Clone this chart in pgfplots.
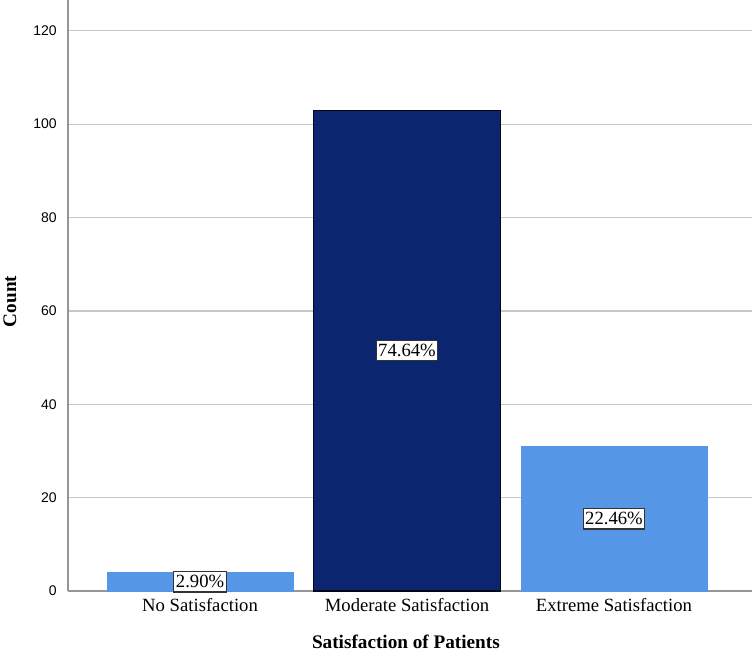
\documentclass[border=0pt]{standalone}
\usepackage{fontspec}
\setmainfont{Liberation Serif}
\newfontfamily\tickfont{Liberation Sans}
\usepackage{pgfplots}
\pgfplotsset{compat=1.18}
\definecolor{lightbar}{RGB}{85,150,230}
\definecolor{darkbar}{RGB}{11,38,110}
\definecolor{gridc}{RGB}{200,200,200}
\definecolor{axisc}{RGB}{150,150,150}
\begin{document}
\begin{tikzpicture}
\begin{axis}[
  at={(0,0)}, anchor=south west,
  scale only axis,
  width=513pt, height=443.25pt,
  xmin=-0.638, xmax=2.667,
  ymin=0, ymax=126.6,
  axis x line*=bottom, axis y line*=left,
  axis line style={axisc, line width=1.4pt, -},
  ytick={0,20,...,120},
  xtick={0,1,2},
  xticklabels={No Satisfaction, Moderate Satisfaction, Extreme Satisfaction},
  x tick label style={font=\fontsize{14}{16}\selectfont, yshift=-2pt},
  y tick label style={font=\tickfont\fontsize{10.5}{12}\selectfont, xshift=-5pt},
  /pgf/number format/assume math mode=true,
  major tick length=0pt,
  ymajorgrids, grid style={gridc, line width=0.9pt},
  xlabel={\textbf{Satisfaction of Patients}},
  ylabel={\textbf{Count}},
  label style={font=\fontsize{14.4}{16}\selectfont},
  xlabel style={at={(axis description cs:0.494,0)}, anchor=center, yshift=-38pt},
  ylabel style={at={(axis description cs:0,0.49)}, anchor=center, yshift=43.5pt},
  ybar, bar width=0.9, bar shift=0pt,
  clip=false,
]
\addplot[fill=lightbar, draw=lightbar] coordinates {(0,4)};
\addplot[fill=darkbar, draw=black!80!darkbar, line width=0.8pt] coordinates {(1,103)};
\addplot[fill=lightbar, draw=lightbar] coordinates {(2,31)};
\addplot[draw=none, mark=none, nodes near coords, point meta=explicit symbolic,
  nodes near coords style={draw=black!80, line width=0.8pt, fill=white, anchor=center,
  inner xsep=1.5pt, inner ysep=3pt, font=\fontsize{14}{15}\selectfont, text=black}]
  coordinates {(0,2) [2.90\%] (1,51.5) [74.64\%] (2,15.5) [22.46\%]};
\end{axis}
\pgfresetboundingbox
\path (-51pt,-46.5pt) rectangle (513pt,443.25pt);
\end{tikzpicture}
\end{document}
